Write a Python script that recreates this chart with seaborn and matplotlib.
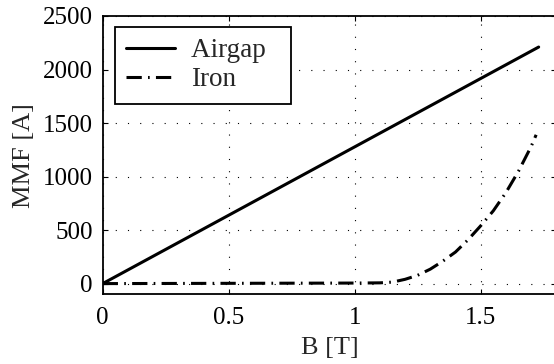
import numpy as np
import pandas as pd
import matplotlib
matplotlib.use("Agg")
import matplotlib.pyplot as plt
import seaborn as sns

# Magnetic circuit: MMF drop across the air gap and the iron vs. flux density
b_airgap = [0.0, 1.73]
mmf_airgap = [0.0, 2210.0]

b_iron = [0.0, 0.2, 0.4, 0.6, 0.8, 1.0, 1.1, 1.15, 1.2, 1.25, 1.3, 1.35,
          1.4, 1.45, 1.5, 1.55, 1.6, 1.65, 1.7, 1.72]
mmf_iron = [0.0, 1.0, 2.0, 3.0, 4.0, 5.0, 7.0, 14.0, 40.0, 78.0, 135.0, 210.0,
            295.0, 410.0, 540.0, 680.0, 850.0, 1050.0, 1280.0, 1390.0]

x_ticks = [0, 0.5, 1, 1.5]
y_ticks = [0, 500, 1000, 1500, 2000, 2500]

sns.set_style("white")
plt.rcParams["font.family"] = ["Liberation Serif", "DejaVu Serif"]
plt.rcParams["lines.scale_dashes"] = False

W, H, DPI = 554, 364, 100
fig = plt.figure(figsize=(W / DPI, H / DPI), dpi=DPI)
left, bottom, top = 102.7 / W, 1 - 294.3 / H, 1 - 16.0 / H
right = 556.3 / W
ax = fig.add_axes([left, bottom, right - left, top - bottom])

df_air = pd.DataFrame({"B": b_airgap, "MMF": mmf_airgap})
df_iron = pd.DataFrame({"B": b_iron, "MMF": mmf_iron})

lw = 2.2
sns.lineplot(data=df_air, x="B", y="MMF", ax=ax, color="black", lw=lw,
             sort=False, label="Airgap  ")
sns.lineplot(data=df_iron, x="B", y="MMF", ax=ax, color="black", lw=lw,
             sort=False, label="Iron",
             linestyle=(0, (11.0, 4.5, 1.2, 4.5)))

ax.set_xlim(0, 1.8)
ax.set_ylim(-100, 2500)
ax.set_xticks(x_ticks)
ax.set_xticklabels(["0", "0.5", "1", "1.5"])
ax.set_yticks(y_ticks)
ax.set_yticklabels([str(v) for v in y_ticks])

ax.tick_params(direction="in", length=3.6, width=0.8, colors="black",
               labelsize=18, top=True, right=True, bottom=True, left=True)
ax.tick_params(axis="x", pad=9)
ax.tick_params(axis="y", pad=7)

ax.grid(True, color="black", linestyle=(0, (0.8, 8.0)), linewidth=0.8)
for s in ax.spines.values():
    s.set_color("black")
    s.set_linewidth(1.3)

ax.set_xlabel("B [T]", fontsize=19, labelpad=6)
ax.set_ylabel("MMF [A]", fontsize=19, labelpad=6)

leg = ax.legend(loc="upper left", fontsize=19.5, frameon=True, fancybox=False,
                edgecolor="black", framealpha=1, handlelength=1.8,
                handletextpad=0.6, labelspacing=0.15, borderpad=0.42,
                bbox_to_anchor=((115 - 102.7) / (556.3 - 102.7),
                                1 - (27 - 16) / (294.3 - 16)),
                borderaxespad=0)
leg.get_frame().set_linewidth(1.3)
for line in leg.get_lines():
    line.set_linewidth(lw)

fig.savefig("out.png", dpi=DPI)
